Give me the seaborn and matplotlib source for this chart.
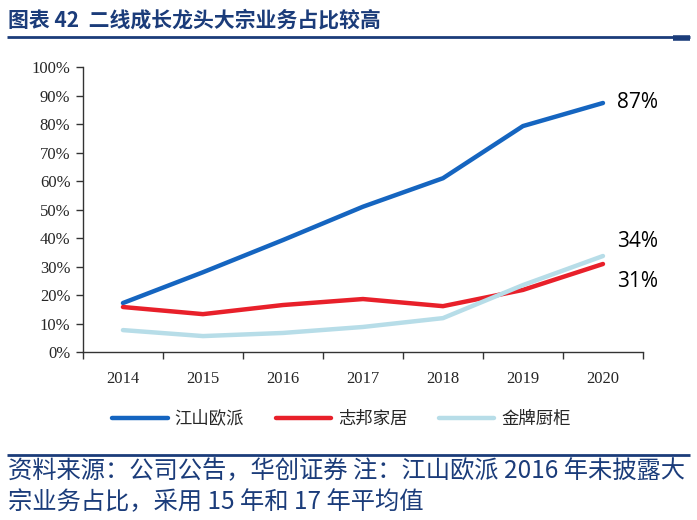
"""
二线成长龙头大宗业务占比较高 - line chart
"""
import numpy as np
import pandas as pd
import seaborn as sns
import matplotlib.pyplot as plt
from matplotlib.lines import Line2D
from matplotlib.ticker import FixedLocator

YEARS = ["2014", "2015", "2016", "2017", "2018", "2019", "2020"]
JIANGSHAN = [17.2, 28.0, 39.3, 51.0, 61.0, 79.3, 87.4]
ZHIBANG = [15.8, 13.3, 16.5, 18.6, 16.1, 21.8, 30.9]
JINPAI = [7.7, 5.6, 6.7, 8.8, 11.9, 23.5, 33.7]
SERIES = ["江山欧派", "志邦家居", "金牌厨柜"]
COLORS = ["#1565C0", "#E8202A", "#B7DDE8"]
END_LABELS = ["87%", "31%", "34%"]

CJK = ["Noto Sans CJK SC", "DejaVu Sans"]
NAVY = "#1B3C7A"

df = pd.DataFrame({"year": YEARS * 3,
                   "share": JIANGSHAN + ZHIBANG + JINPAI,
                   "company": np.repeat(SERIES, len(YEARS))})

sns.set_theme(style="white")
plt.rcParams["font.family"] = ["Liberation Serif", "Noto Sans CJK SC"]

fig = plt.figure(figsize=(6.97, 5.2), dpi=100)
ax = fig.add_axes([0.119, 0.323, 0.8035, 0.548])

sns.lineplot(data=df, x="year", y="share", hue="company", hue_order=SERIES,
             palette=COLORS, linewidth=3.2, sort=False, legend=False, ax=ax)

ax.set_xlim(-0.5, 6.5)
ax.set_ylim(0, 100)
ax.set_yticks(np.arange(0, 101, 10))
ax.set_yticklabels([f"{v}%" for v in range(0, 101, 10)], fontsize=12)
ax.set_xticks(range(len(YEARS)))
ax.set_xticklabels(YEARS, fontsize=12)
ax.xaxis.set_minor_locator(FixedLocator(np.arange(-0.5, 7, 1)))
ax.tick_params(axis="x", which="major", length=0, pad=14)
ax.tick_params(axis="x", which="minor", length=5, width=1, color="#333333",
               direction="out", bottom=True)
ax.tick_params(axis="y", length=5, width=1, color="#333333", direction="out",
               left=True, pad=4)
ax.set_xlabel("")
ax.set_ylabel("")
for s in ["top", "right"]:
    ax.spines[s].set_visible(False)
for s in ["left", "bottom"]:
    ax.spines[s].set_color("#333333")
    ax.spines[s].set_linewidth(1)

# end-of-line labels (nudged apart like the original)
for vals, lab, dy in zip([JIANGSHAN, ZHIBANG, JINPAI], END_LABELS, [0, -6, 5]):
    ax.text(6.18, vals[-1] + dy, lab, fontsize=15, va="center", ha="left",
            family=["Open Sans"], color="black", clip_on=False)

# legend
handles = [Line2D([0], [0], color=c, lw=3.2) for c in COLORS]
leg = fig.legend(handles, SERIES, loc="center", bbox_to_anchor=(0.49, 0.195),
                 ncol=3, frameon=False, handlelength=3.2, handletextpad=0.4,
                 columnspacing=1.8, prop={"family": CJK, "size": 12.5})

# title and rules
fig.text(0.012, 0.962, "图表 42  二线成长龙头大宗业务占比较高", fontsize=15,
         fontweight="bold", color=NAVY, family=CJK, va="center")
fig.add_artist(Line2D([0.01, 0.99], [0.928, 0.928], color=NAVY, lw=2,
                      solid_capstyle="butt"))
fig.add_artist(Line2D([0.965, 0.99], [0.926, 0.926], color=NAVY, lw=4,
                      solid_capstyle="butt"))
fig.add_artist(Line2D([0.01, 0.99], [0.125, 0.125], color=NAVY, lw=2,
                      solid_capstyle="butt"))

fig.text(0.012, 0.093, "资料来源：公司公告，华创证券 注：江山欧派 2016 年未披露大",
         fontsize=17.5, style="italic", color=NAVY, family=CJK, va="center")
fig.text(0.012, 0.035, "宗业务占比，采用 15 年和 17 年平均值",
         fontsize=17.5, style="italic", color=NAVY, family=CJK, va="center")

fig.savefig("out.png", dpi=100)
